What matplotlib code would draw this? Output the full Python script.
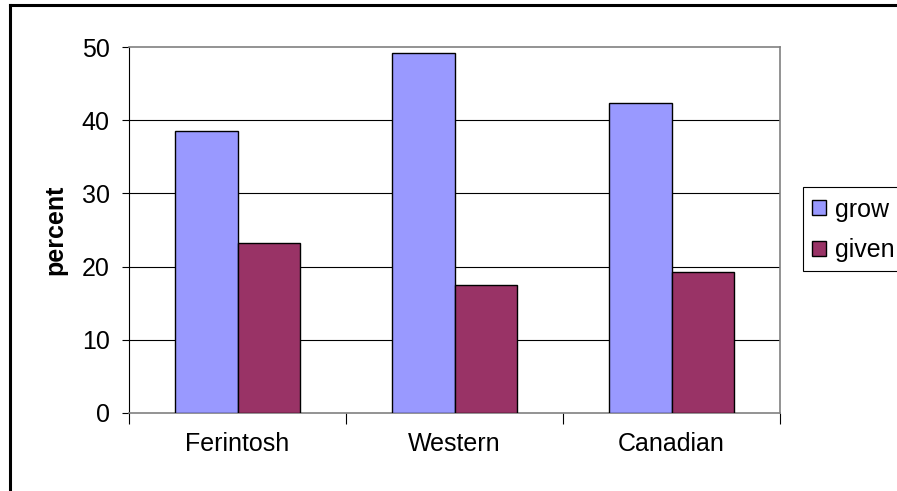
import numpy as np
import matplotlib
matplotlib.use("Agg")
import matplotlib.pyplot as plt
from matplotlib.lines import Line2D
from matplotlib.patches import Rectangle

plt.rcParams["font.family"] = ["Liberation Sans", "DejaVu Sans"]

categories = ["Ferintosh", "Western", "Canadian"]
grow = [38.5, 49.2, 42.4]
given = [23.2, 17.5, 19.2]
yticks = [0, 10, 20, 30, 40, 50]

W, H = 897, 491
FS = 18
fig = plt.figure(figsize=(W / 100, H / 100), dpi=100)
ax = fig.add_axes([129 / W, 1 - 413 / H, (780 - 129) / W, (413 - 47) / H])

x = np.arange(len(categories))
bw = 0.29
b1 = ax.bar(x - bw / 2, grow, bw, color="#9999FF", edgecolor="black", linewidth=1, label="grow", zorder=3)
b2 = ax.bar(x + bw / 2, given, bw, color="#993366", edgecolor="black", linewidth=1, label="given", zorder=3)

ax.set_xlim(-0.5, len(categories) - 0.5)
ax.set_ylim(0, 50)
ax.set_yticks(yticks)
for v in yticks[1:-1]:
    ax.axhline(v, color="black", linewidth=0.8, zorder=1)

ax.set_xticks(np.arange(len(categories) + 1) - 0.5)
ax.set_xticklabels([])
ax.set_xticks(x, minor=True)
ax.set_xticklabels(categories, minor=True, fontsize=FS)
ax.tick_params(axis="x", which="minor", length=0, pad=14)
ax.tick_params(axis="x", which="major", length=8, width=0.8, direction="out")
ax.tick_params(axis="y", length=5, width=0.8, direction="out", labelsize=FS, pad=9)

for s in ["top", "right"]:
    ax.spines[s].set_color("#808080")
    ax.spines[s].set_linewidth(1.2)
ax.spines["left"].set_color("black")
ax.spines["bottom"].set_color("#808080")
ax.spines["left"].set_linewidth(0.8)
ax.spines["bottom"].set_linewidth(1.2)

ax.set_ylabel("percent", fontsize=FS, fontweight="bold", labelpad=10)

# legend box drawn separately so the padding matches the reference
fig.add_artist(Rectangle((803 / W, 1 - 271 / H), 100 / W, 84 / H, transform=fig.transFigure,
                         facecolor="white", edgecolor="black", linewidth=0.8))
leg = fig.legend(handles=[b1, b2], labels=["grow", "given"],
                 loc="center left", bbox_to_anchor=(812 / W, 1 - 230 / H),
                 fontsize=FS, frameon=False,
                 handlelength=0.55, handleheight=0.55, handletextpad=0.35,
                 labelspacing=0.68, borderpad=0, borderaxespad=0)

# outer slide frame
fig.add_artist(Line2D([10 / W, 1], [1 - 5 / H, 1 - 5 / H], color="black", linewidth=2.2,
                      transform=fig.transFigure))
fig.add_artist(Line2D([10 / W, 10 / W], [0, 1 - 5 / H], color="black", linewidth=2.2,
                      transform=fig.transFigure))

fig.savefig("out.png", dpi=100)
